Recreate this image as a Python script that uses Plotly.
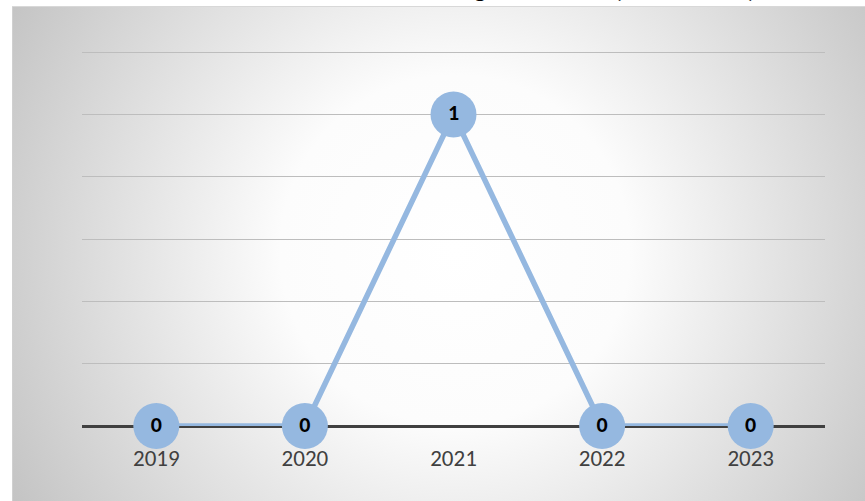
import base64
import plotly.graph_objects as go

# ---- data ----
years = ["2019", "2020", "2021", "2022", "2023"]
counts = [0, 0, 1, 0, 0]
title_text = "Annual Number of Articles Mentioning the Theme (2019 - 2023)"

W, H = 865, 501
L, R, T, B = 82, 40, 49, 75  # plot area 82..825 x, 49..426 y
pw, ph = W - L - R, H - T - B
FONT = "Carlito, Lato, Noto Sans, sans-serif"

# radial-gradient background (chart area from pixel x=12, y=6 outward)
bx0, by0 = 12, 6
bw, bh = W - bx0 + 40, H - by0 + 30
svg = f'''<svg xmlns="http://www.w3.org/2000/svg" width="{bw}" height="{bh}" viewBox="0 0 {bw} {bh}">
<defs><radialGradient id="g" gradientUnits="userSpaceOnUse" cx="{455-bx0}" cy="{250-by0}" r="530">
<stop offset="0" stop-color="#ffffff"/><stop offset="0.33" stop-color="#fcfcfc"/>
<stop offset="1" stop-color="#c0c0c0"/></radialGradient></defs>
<rect x="0" y="0" width="{bw}" height="{bh}" fill="url(#g)"/>
<line x1="0.5" y1="0" x2="0.5" y2="{bh}" stroke="#d0d0d0" stroke-width="1"/>
<line x1="0" y1="0.5" x2="{bw}" y2="0.5" stroke="#d8d8d8" stroke-width="1"/>
</svg>'''
src = "data:image/svg+xml;base64," + base64.b64encode(svg.encode()).decode()

def px2x(p):
    return (p - L) / pw

def px2y(p):
    return (H - B - p) / ph

fig = go.Figure()
fig.add_trace(go.Scatter(
    x=years, y=counts, mode="lines+markers+text",
    text=[str(v) for v in counts], textposition="middle center",
    textfont=dict(family=FONT, size=22, color="#000000", weight="bold"),
    line=dict(color="#95B8E0", width=5.5),
    marker=dict(size=46, color="#95B8E0", line=dict(width=0)),
    cliponaxis=False, showlegend=False, hoverinfo="skip",
))

fig.add_layout_image(dict(
    source=src, xref="paper", yref="paper",
    x=px2x(bx0), y=px2y(by0), sizex=bw / pw, sizey=bh / ph,
    xanchor="left", yanchor="top", sizing="stretch", layer="below",
))

fig.add_annotation(
    text=title_text, xref="paper", yref="paper",
    x=px2x(758), y=px2y(6), xanchor="right", yanchor="bottom",
    showarrow=False,
    font=dict(family=FONT, size=26, color="#000000", weight="bold"),
)

fig.update_layout(
    width=W, height=H,
    margin=dict(l=L, r=R, t=T, b=B, pad=0),
    paper_bgcolor="#ffffff", plot_bgcolor="rgba(0,0,0,0)",
    xaxis=dict(
        type="category", range=[-0.5, 4.5], showgrid=False,
        showline=False, zeroline=False, ticks="",
        tickfont=dict(family=FONT, size=23, color="#404040"),
        ticklabelstandoff=16,
    ),
    yaxis=dict(
        range=[0, 1.21], tick0=0, dtick=0.2, showticklabels=False,
        showgrid=True, gridcolor="#bdbdbd", gridwidth=1.3,
        zeroline=True, zerolinecolor="#404040", zerolinewidth=3,
        showline=False,
    ),
)

fig.write_html(
    "out.html",
    config={"displayModeBar": False},
    post_script="document.body.style.margin='0';document.body.style.overflow='hidden';",
)
